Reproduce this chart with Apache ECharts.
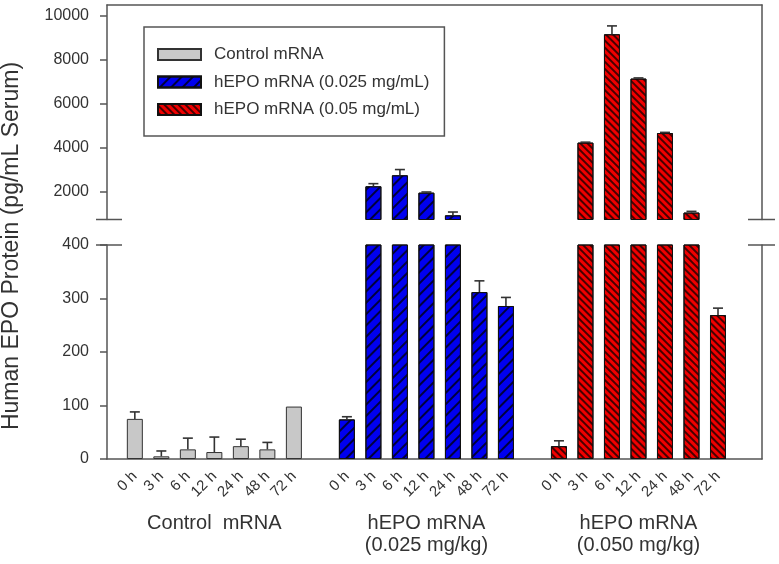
<!DOCTYPE html>
<html>
<head>
<meta charset="utf-8">
<script src="https://cdn.jsdelivr.net/npm/echarts@6/dist/echarts.min.js"></script>
<style>html,body{margin:0;padding:0;background:#fff}#c{width:779px;height:564px}</style>
</head>
<body>
<div id="c"></div>
<script>
// ---- data ----
const times = ['0 h', '3 h', '6 h', '12 h', '24 h', '48 h', '72 h'];
const groupLabels = ['Control  mRNA', 'hEPO mRNA\n(0.025 mg/kg)', 'hEPO mRNA\n(0.050 mg/kg)'];
const seriesNames = ['Control mRNA', 'hEPO mRNA (0.025 mg/mL)', 'hEPO mRNA (0.05 mg/mL)'];
const controlMean = [75, 5, 18, 13, 24, 18, 98];
const controlErr  = [13, 10, 21, 28, 13, 13, 0];
const dose025Mean = [74, 2260, 2760, 1970, 940, 312, 286];
const dose025Err  = [5, 120, 260, 30, 150, 21, 16];
const dose05Mean  = [24, 4245, 9170, 7155, 4680, 1065, 269];
const dose05Err   = [10, 20, 380, 30, 30, 55, 13];
const upperTicks = [2000, 4000, 6000, 8000, 10000];
const lowerTicks = [0, 100, 200, 300, 400];
const upperRange = [750, 10500];
const lowerRange = [0, 400];

const means = [controlMean, dose025Mean, dose05Mean];
const errs = [controlErr, dose025Err, dose05Err];
const slotsPerGroup = times.length + 1;
const pos = (g, t) => g * slotsPerGroup + t;

const FONT = '"Liberation Sans", Arial, sans-serif';
const AX = '#555';
const TXT = '#333';

const styles = [
  { color: '#c8c8c8', borderColor: '#333', borderWidth: 1 },
  { color: '#0000f0', borderColor: '#111', borderWidth: 1,
    decal: { symbol: 'rect', symbolSize: 1, dashArrayX: [1, 0], dashArrayY: [1.5, 6], rotation: -Math.PI / 4, color: 'rgba(0,0,0,0.75)' } },
  { color: '#f00000', borderColor: '#111', borderWidth: 1,
    decal: { symbol: 'rect', symbolSize: 1, dashArrayX: [1, 0], dashArrayY: [1.2, 2.2], rotation: Math.PI / 4, color: 'rgba(0,0,0,0.7)' } }
];

const tickPositions = [];
const tickText = {};
for (let g = 0; g < 3; g++) for (let t = 0; t < times.length; t++) { tickPositions.push(pos(g, t)); tickText[pos(g, t)] = times[t]; }
const groupPos = [0, 1, 2].map(g => pos(g, (times.length - 1) / 2));

const series = [];
[0, 1].forEach(gi => {
  const [lo, hi] = gi === 0 ? upperRange : lowerRange;
  for (let g = 0; g < 3; g++) {
    const data = means[g].map((v, t) => [pos(g, t), (gi === 0 && v < lo) ? '-' : v]);
    series.push({
      name: seriesNames[g], type: 'bar', xAxisIndex: gi, yAxisIndex: gi * 2,
      barWidth: 16, barGap: '-100%', itemStyle: styles[g], data: data, clip: true,
      emphasis: { disabled: true }, animation: false
    });
    const edata = means[g].map((v, t) => [pos(g, t), v, errs[g][t]])
      .filter(d => gi === 0 ? d[1] >= lo : d[1] <= hi);
    series.push({
      name: 'err' + gi + g, type: 'custom', xAxisIndex: gi, yAxisIndex: gi * 2, z: 5,
      animation: false, data: edata,
      renderItem: function (params, api) {
        const x = api.value(0), v = api.value(1), e = api.value(2);
        if (!e) return null;
        const p0 = api.coord([x, v]);
        const p1 = api.coord([x, v + e]);
        const st = { stroke: '#333', lineWidth: 1.6 };
        return { type: 'group', children: [
          { type: 'line', shape: { x1: p0[0], y1: p0[1], x2: p1[0], y2: p1[1] }, style: st },
          { type: 'line', shape: { x1: p1[0] - 5, y1: p1[1], x2: p1[0] + 5, y2: p1[1] }, style: st }
        ] };
      }
    });
  }
});

const GL = 107, GR = 17, UT = 5, UH = 214.5, LT = 245, LH = 214;
const xRange = [-1.05, 23.66];
const plain = v => String(v);

const yAxisBase = (gi, range, ticks, right) => ({
  type: 'value', gridIndex: gi, min: range[0], max: range[1], position: right ? 'right' : 'left',
  axisLine: { show: true, onZero: false, lineStyle: { color: AX, width: 1.5 } },
  axisTick: right ? { show: false } : { show: true, length: 7, customValues: ticks, lineStyle: { color: AX, width: 1.5 } },
  axisLabel: right ? { show: false } : { customValues: ticks, margin: 18, fontSize: 16, color: TXT, fontFamily: FONT, formatter: plain },
  splitLine: { show: false }
});

const option = {
  animation: false,
  textStyle: { fontFamily: FONT },
  legend: {
    data: seriesNames, orient: 'vertical', left: 144, top: 27,
    padding: [19, 15, 18, 13], itemWidth: 43, itemHeight: 11, itemGap: 10.5,
    borderColor: '#555', borderWidth: 1.5, icon: 'rect', selectedMode: false,
    textStyle: { fontSize: 17, color: TXT, fontFamily: FONT, padding: [0, 0, 0, 8], lineHeight: 12 }
  },
  grid: [
    { left: GL, right: GR, top: UT, height: UH },
    { left: GL, right: GR, top: LT, height: LH }
  ],
  xAxis: [
    { type: 'value', gridIndex: 0, min: xRange[0], max: xRange[1], position: 'top',
      axisLine: { show: true, onZero: false, lineStyle: { color: AX, width: 1.5 } },
      axisTick: { show: false }, axisLabel: { show: false }, splitLine: { show: false } },
    { type: 'value', gridIndex: 1, min: xRange[0], max: xRange[1], position: 'bottom',
      axisLine: { show: true, onZero: false, lineStyle: { color: AX, width: 1.5 } },
      axisTick: { show: false }, splitLine: { show: false },
      axisLabel: { customValues: tickPositions, rotate: 45, margin: 15, fontSize: 15, color: TXT, fontFamily: FONT,
        formatter: v => tickText[Math.round(v)] || '' } },
    { type: 'value', gridIndex: 1, min: xRange[0], max: xRange[1], position: 'bottom',
      axisLine: { show: false, onZero: false }, axisTick: { show: false }, splitLine: { show: false },
      axisLabel: { customValues: groupPos, margin: 53, fontSize: 20, lineHeight: 22, color: TXT, fontFamily: FONT,
        formatter: v => { const i = groupPos.findIndex(p => Math.abs(p - v) < 0.01); return i >= 0 ? groupLabels[i] : ''; } } }
  ],
  yAxis: [
    yAxisBase(0, upperRange, upperTicks, false),
    yAxisBase(0, upperRange, upperTicks, true),
    yAxisBase(1, lowerRange, lowerTicks, false),
    yAxisBase(1, lowerRange, lowerTicks, true)
  ],
  series: series
};

const chart = echarts.init(document.getElementById('c'), null, { renderer: 'canvas' });
chart.setOption(option);

// axis-break marks and y-axis title
const W = 779;
const yBreakTop = UT + UH, yBreakBot = LT;
const xL = GL, xR = W - GR;
const brk = [];
[yBreakTop, yBreakBot].forEach(y => {
  brk.push({ type: 'line', shape: { x1: xL - 11, y1: y, x2: xL + 15, y2: y }, style: { stroke: AX, lineWidth: 1.5 } });
  brk.push({ type: 'line', shape: { x1: xR - 14, y1: y, x2: xR + 13, y2: y }, style: { stroke: AX, lineWidth: 1.5 } });
});
brk.push({ type: 'text', x: 12, y: 246, rotation: Math.PI / 2,
  style: { text: 'Human EPO Protein (pg/mL Serum)', fontSize: 23, fontFamily: FONT, fill: TXT, align: 'center', verticalAlign: 'middle' } });
chart.setOption({ graphic: brk });
</script>
</body>
</html>
